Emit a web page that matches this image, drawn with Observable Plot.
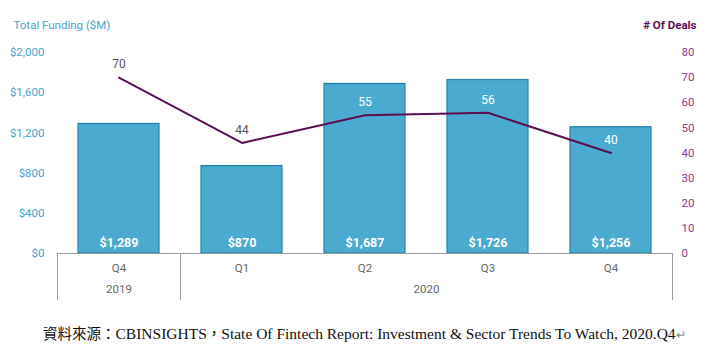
<!DOCTYPE html>
<html>
<head>
<meta charset="utf-8">
<script src="https://cdn.jsdelivr.net/npm/d3@7"></script>
<script src="https://cdn.jsdelivr.net/npm/@observablehq/plot@0.6"></script>
<style>
  html, body { margin: 0; padding: 0; background: #fff; }
  #chart { width: 716px; height: 300px; }
  #caption {
    position: relative; height: 51px;
  }
  #caption .txt {
    position: absolute; left: 43px; top: 24px; white-space: nowrap;
    font-family: "Liberation Serif", serif; font-size: 15.5px; color: #111; line-height: 18px;
  }
  #caption .cjk { font-family: "Noto Sans CJK TC", sans-serif; font-size: 14.5px; }
  #caption .mark { color: #888; font-size: 12px; }
</style>
</head>
<body>
<div id="chart"></div>
<div id="caption"><div class="txt"><span class="cjk">資料來源：</span>CBINSIGHTS<span class="cjk">，</span>State Of Fintech Report: Investment &amp; Sector Trends To Watch, 2020.Q4<span class="mark">↵</span></div></div>
<script>
// ---- data ----
const years    = ["2019", "2020", "2020", "2020", "2020"];
const quarters = ["Q4", "Q1", "Q2", "Q3", "Q4"];
const funding  = [1289, 870, 1687, 1726, 1256];   // $M
const deals    = [70, 44, 55, 56, 40];            // # of deals
const fundingTicks = [0, 400, 800, 1200, 1600, 2000];
const dealTicks    = [0, 10, 20, 30, 40, 50, 60, 70, 80];
const yearGroups   = [{year: "2019", first: 0, last: 0}, {year: "2020", first: 1, last: 4}];

const ratio = 2000 / 80; // maps deals onto the funding scale for the right axis
const rows = quarters.map((q, i) => ({
  key: years[i] + " " + q, q, year: years[i], funding: funding[i], deals: deals[i], dealsY: deals[i] * ratio
}));
const keys = rows.map(d => d.key);

const W = 716, H = 300, mL = 57, mR = 44, mT = 52, mB = 47;
const step = (W - mL - mR) / keys.length;

const fmtMoney = d => "$" + d3.format(",")(d);
const font = "Roboto, 'Liberation Sans Narrow', sans-serif";
const grid = "#9a9a9a";

// separators at band edges: before each year group, and after the last band
const sepMarks = yearGroups.map(g =>
  Plot.ruleX([keys[g.first]], {dx: -step / 2, y1: 0, y2: -470, stroke: grid, strokeWidth: 1})
).concat([Plot.ruleX([keys[keys.length - 1]], {dx: step / 2, y1: 0, y2: -470, stroke: grid, strokeWidth: 1})]);

const yearMarks = yearGroups.map(g =>
  Plot.text([g.year], {x: () => keys[g.first], y: () => 0, dx: (g.last - g.first) / 2 * step, dy: 36,
    fill: "#666", fontSize: 11.5})
);

const chart = Plot.plot({
  width: W, height: H,
  marginLeft: mL, marginRight: mR, marginTop: mT, marginBottom: mB,
  style: {fontFamily: font, fontSize: "11px", background: "#fff"},
  x: {domain: keys, paddingInner: 0.34, paddingOuter: 0.17, axis: null},
  y: {domain: [0, 2000], axis: null},
  marks: [
    Plot.barY(rows, {x: "key", y: "funding", fill: "#4BAACF", stroke: "#2184ad", strokeWidth: 1.2}),
    Plot.ruleY([0], {stroke: grid, strokeWidth: 1}),
    ...sepMarks,
    // left axis
    Plot.axisY({ticks: fundingTicks, tickFormat: fmtMoney, anchor: "left", tickSize: 0, tickPadding: 13,
      label: null, color: "#4BA3C8", fontSize: 11.5}),
    // right axis (deals)
    Plot.axisY({ticks: dealTicks.map(d => d * ratio), tickFormat: d => d / ratio, anchor: "right",
      tickSize: 0, tickPadding: 9, label: null, color: "#8E3B86", fontSize: 11.5, textAnchor: "start"}),
    // x tick labels
    Plot.axisX({anchor: "bottom", tickSize: 0, tickPadding: 10, tickFormat: k => k.split(" ")[1],
      label: null, color: "#666", fontSize: 11.5}),
    ...yearMarks,
    // bar value labels
    Plot.text(rows, {x: "key", y: () => 0, text: d => fmtMoney(d.funding), dy: -11, fill: "white",
      fontWeight: "bold", fontSize: 12.5}),
    // deals line
    Plot.line(rows, {x: "key", y: "dealsY", stroke: "#5C0F50", strokeWidth: 2}),
    Plot.text(rows, {x: "key", y: "dealsY", text: d => String(d.deals), dy: -13, fontSize: 12,
      fill: d => d.dealsY < d.funding ? "white" : "#555", fontWeight: d => d.dealsY < d.funding ? "bold" : "normal"}),
    // axis titles
    Plot.text(["Total Funding ($M)"], {frameAnchor: "top-left", dx: -44, dy: -32, textAnchor: "start",
      fill: "#4BA3C8", fontSize: 11.5}),
    Plot.text(["# Of Deals"], {frameAnchor: "top-right", dx: 24, dy: -32, textAnchor: "end",
      fill: "#5C0F50", fontSize: 11.5, fontWeight: "bold"})
  ]
});

document.getElementById("chart").appendChild(chart);
</script>
</body>
</html>
